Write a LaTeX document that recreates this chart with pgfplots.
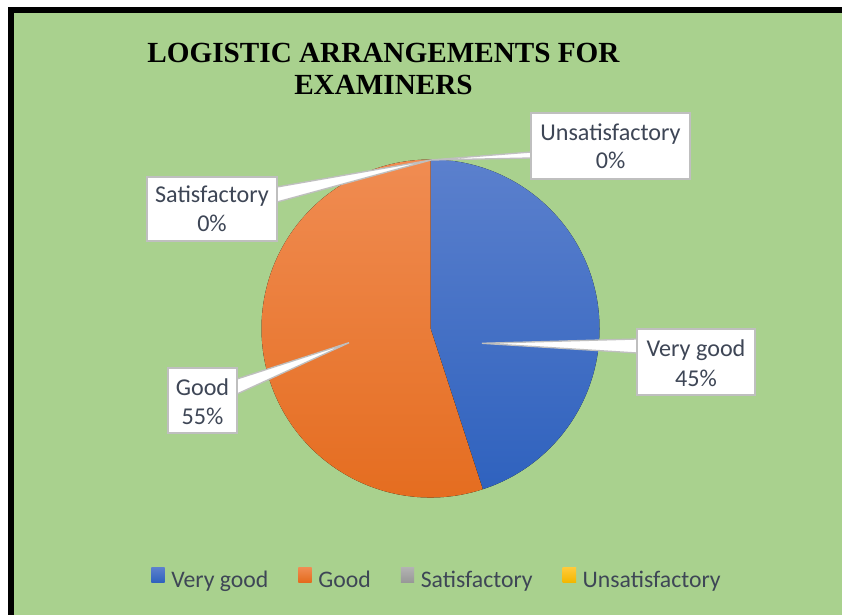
\documentclass[border=0pt]{standalone}
\usepackage{fontspec}
\setmainfont{Carlito}
\newfontfamily\titlefont{Liberation Serif}
\usepackage{pgfplots}
\pgfplotsset{compat=1.18}

\definecolor{bg}{HTML}{A9D18E}
\definecolor{txt}{HTML}{3E4656}
\definecolor{boxline}{HTML}{BFBFBF}
\definecolor{blueT}{HTML}{5B80CD}
\definecolor{blueB}{HTML}{2F62BE}
\definecolor{orT}{HTML}{F08C52}
\definecolor{orB}{HTML}{E46B1D}
\definecolor{grT}{HTML}{B2B2B2}
\definecolor{grB}{HTML}{989898}
\definecolor{yeT}{HTML}{FFCA3A}
\definecolor{yeB}{HTML}{F2B700}

% shares in percent: Very good, Good, Satisfactory, Unsatisfactory
\def\vgood{45}
\def\good{55}
\def\sat{0}
\def\unsat{0}

\begin{document}
\begin{tikzpicture}
\begin{axis}[
  x=0.75pt, y=0.75pt,
  xmin=0, xmax=842, ymin=0, ymax=614,
  hide axis,
  clip=true,
  legend columns=4,
  legend image code/.code={\fill[#1, draw=none] (0pt,-1.5pt) rectangle (10pt,9.5pt);},
  legend style={
    draw=none, fill=none, inner sep=0pt,
    at={(axis cs:151,35.5)}, anchor=west,
    font=\fontsize{17.8}{20}\selectfont\color{txt},
    nodes={inner sep=0pt},
    /tikz/every odd column/.append style={column sep=5pt},
    /tikz/every even column/.append style={column sep=22.5pt},
  },
]
% frame and background
\fill[white] (axis cs:-10,-10) rectangle (axis cs:900,700);
\fill[black] (axis cs:8,-10) rectangle (axis cs:900,607);
\fill[bg] (axis cs:14,-10) rectangle (axis cs:900,601);

% title
\node[anchor=base, font=\titlefont\bfseries\fontsize{21.9}{24}\selectfont] at (axis cs:383.5,551.7) {LOGISTIC ARRANGEMENTS FOR};
\node[anchor=base, font=\titlefont\bfseries\fontsize{21.9}{24}\selectfont] at (axis cs:383.5,519) {EXAMINERS};

% pie slices, clockwise from 12 o'clock
\fill[top color=blueT, bottom color=blueB] (axis cs:430.5,285.5) -- ++(90:126.75pt)
  arc[start angle=90, end angle={90-3.6*\vgood}, radius=126.75pt] -- cycle;
\fill[top color=orT, bottom color=orB] (axis cs:430.5,285.5) -- ++({90-3.6*\vgood}:126.75pt)
  arc[start angle={90-3.6*\vgood}, end angle={90-3.6*(\vgood+\good)}, radius=126.75pt] -- cycle;

% callout pointers
\filldraw[fill=white, draw=boxline, line width=1pt] (axis cs:482,270.7) -- (axis cs:637,275) -- (axis cs:637,261) -- cycle;
\filldraw[fill=white, draw=boxline, line width=1pt] (axis cs:349,271.3) -- (axis cs:237,235) -- (axis cs:237,220) -- cycle;
\filldraw[fill=white, draw=boxline, line width=1pt] (axis cs:431,454) -- (axis cs:277,427) -- (axis cs:277,412) -- cycle;
\filldraw[fill=white, draw=boxline, line width=1pt] (axis cs:431,454) -- (axis cs:531,462) -- (axis cs:531,456) -- cycle;

% callout boxes
\filldraw[fill=white, draw=boxline, line width=1pt] (axis cs:531,435) rectangle (axis cs:690,501);
\filldraw[fill=white, draw=boxline, line width=1pt] (axis cs:147,373) rectangle (axis cs:277,437);
\filldraw[fill=white, draw=boxline, line width=1pt] (axis cs:168,181) rectangle (axis cs:237,246);
\filldraw[fill=white, draw=boxline, line width=1pt] (axis cs:637,219) rectangle (axis cs:755,285);

\begin{scope}[every node/.style={anchor=base, text=txt, font=\fontsize{18.1}{20}\selectfont}]
\node at (axis cs:610.5,473) {Unsatisfactory};
\node at (axis cs:610.5,445) {\unsat\%};
\node at (axis cs:212,411) {Satisfactory};
\node at (axis cs:212,382) {\sat\%};
\node at (axis cs:202.5,218) {Good};
\node at (axis cs:202.5,189) {\good\%};
\node at (axis cs:696,257) {Very good};
\node at (axis cs:696,227) {\vgood\%};
\end{scope}

\addlegendimage{top color=blueT, bottom color=blueB}
\addlegendentry{Very good}
\addlegendimage{top color=orT, bottom color=orB}
\addlegendentry{Good}
\addlegendimage{top color=grT, bottom color=grB}
\addlegendentry{Satisfactory}
\addlegendimage{top color=yeT, bottom color=yeB}
\addlegendentry{Unsatisfactory}
\end{axis}
\end{tikzpicture}
\end{document}
